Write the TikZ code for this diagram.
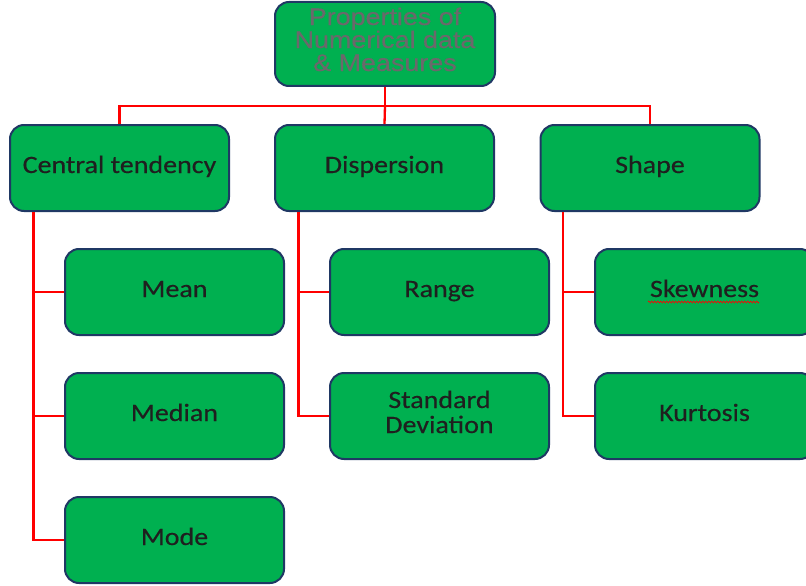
\documentclass[tikz,border=0pt]{standalone}
\usepackage{fontspec}
\setmainfont{Carlito}[FakeStretch=1.12,FakeBold=0.35]
\newfontfamily\titlefont{Liberation Sans}[FakeStretch=1.12,FakeBold=0.4]
\usetikzlibrary{decorations.pathmorphing}
\definecolor{boxgreen}{HTML}{00B050}
\definecolor{boxedge}{HTML}{1F3864}
\definecolor{titlegray}{HTML}{6B686B}
\definecolor{linkred}{HTML}{FF0000}
\begin{document}
\begin{tikzpicture}[x=1pt,y=-1pt,
  box/.style={draw=boxedge,line width=2pt,fill=boxgreen,rounded corners=14pt,
    minimum width=219pt,minimum height=86pt,inner sep=0pt,align=center,
    font=\fontsize{25}{25}\selectfont,text=black!88,
    text height=18pt,text depth=8pt},
  twoline/.style={text height=41pt,text depth=7pt},
  link/.style={draw=linkred,line width=2.3pt}]
\useasboundingbox (0,0) rectangle (806,586);
% root
\node[box,minimum width=220pt,minimum height=84pt,
  font=\titlefont\fontsize{24}{23}\selectfont,text=titlegray,
  text height=63pt,text depth=9pt] (root) at (385,44)
  {Properties of\\Numerical data\\\& Measures};
% first level
\node[box] (ct) at (119.5,168) {Central tendency};
\node[box] (disp) at (384.5,168) {Dispersion};
\node[box] (shape) at (650,168) {Shape};
% second level
\node[box] (mean) at (174.5,292) {Mean};
\node[box] (median) at (174.5,416) {Median};
\node[box] (mode) at (174.5,540) {Mode};
\node[box] (range) at (439.5,292) {Range};
\node[box,twoline] (sd) at (439.5,416) {Standard\\Deviation};
\node[box] (skew) at (704.5,292) {Skewness};
\node[box] (kurt) at (704.5,416) {Kurtosis};
% spelling squiggle under Skewness
\draw[linkred,line width=0.6pt,decorate,decoration={zigzag,amplitude=1pt,segment length=3pt}]
  (648,302) -- (759,302);
% connectors from the root
\coordinate (bus) at (385,106);
\draw[link] (root.south) -- (bus);
\draw[link] (ct.north) |- (bus) -| (shape.north);
\draw[link] (bus) -- (disp.north);
% connectors to second level
\draw[link] ([xshift=-86pt]ct.south) |- (mode.west);
\draw[link] ([xshift=-86pt]ct.south) |- (mean.west);
\draw[link] ([xshift=-86pt]ct.south) |- (median.west);
\draw[link] ([xshift=-86pt]disp.south) |- (range.west);
\draw[link] ([xshift=-86pt]disp.south) |- (sd.west);
\draw[link] ([xshift=-87pt]shape.south) |- (skew.west);
\draw[link] ([xshift=-87pt]shape.south) |- (kurt.west);
\end{tikzpicture}
\end{document}
